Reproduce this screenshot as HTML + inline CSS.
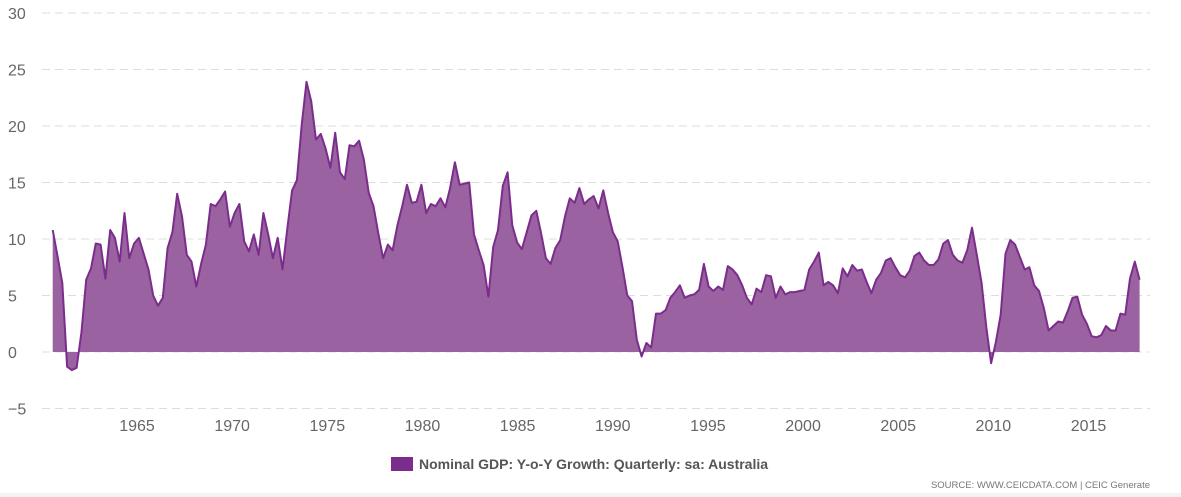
<!DOCTYPE html>
<html><head><meta charset="utf-8"><style>
body{margin:0;background:#fff;width:1181px;height:497px;overflow:hidden;font-family:"Liberation Sans",sans-serif}
svg{display:block}
</style></head><body>
<svg id="chart" width="1181" height="497" viewBox="0 0 1181 497">
<rect x="0" y="493" width="1181" height="4" fill="#f3f3f3"/>
<g id="grid"></g>
<g id="yticks"></g>
<g id="xticks"></g>
<g id="series"></g>
<g>
<rect x="391" y="457" width="22" height="14" fill="#7b2d8b"/>
<text x="419" y="469" font-size="14" font-weight="bold" fill="#555">Nominal GDP: Y-o-Y Growth: Quarterly: sa: Australia</text>
</g>
<text x="1150" y="488" font-size="9.5" fill="#777" text-anchor="end">SOURCE: WWW.CEICDATA.COM | CEIC Generate</text>
</svg>
<script>
const startYear = 1960.57;
const quarterStep = 0.2516;
const yTicks = [-5,0,5,10,15,20,25,30];
const xTicks = [1965,1970,1975,1980,1985,1990,1995,2000,2005,2010,2015];
const values = [10.8,8.5,6.1,-1.3,-1.6,-1.4,1.7,6.4,7.4,9.6,9.5,6.5,10.8,10.1,8.0,12.3,8.3,9.6,10.1,8.7,7.3,5.0,4.1,4.8,9.2,10.6,14.0,12.0,8.6,8.0,5.8,7.8,9.5,13.1,12.9,13.5,14.2,11.1,12.3,13.1,9.8,8.9,10.4,8.6,12.3,10.4,8.3,10.1,7.3,10.9,14.3,15.2,20.1,23.9,22.2,18.8,19.3,
18.0,16.3,19.4,15.9,15.3,18.3,18.2,18.7,17.0,14.1,12.9,10.5,8.3,9.5,9.0,11.2,12.9,14.8,13.2,13.3,14.8,12.3,13.1,12.9,13.6,12.8,14.5,16.8,14.8,14.9,15.0,10.4,9.0,7.7,4.9,9.3,10.8,14.7,15.9,11.2,9.7,9.1,10.6,12.1,12.5,10.5,8.3,7.8,9.2,9.9,12.0,13.6,13.2,14.5,13.1,13.5,13.8,12.7,14.3,12.3,10.6,9.8,
7.5,5.0,4.5,1.1,-0.4,0.8,0.4,3.4,3.4,3.7,4.8,5.3,5.9,4.8,5.0,5.1,5.5,7.8,5.8,5.4,5.8,5.5,7.6,7.3,6.8,5.9,4.8,4.2,5.6,5.3,6.8,6.7,4.8,5.8,5.1,5.3,5.3,5.4,5.5,7.3,8.0,8.8,5.9,6.2,5.9,5.2,7.4,6.7,7.7,7.2,7.3,6.2,5.2,6.4,7.0,8.1,8.3,
7.5,6.8,6.6,7.2,8.5,8.8,8.1,7.7,7.7,8.2,9.6,9.9,8.6,8.1,7.9,9.0,11.0,8.6,6.1,2.2,-1.0,0.9,3.3,8.7,9.9,9.5,8.4,7.3,7.5,5.9,5.4,3.9,1.9,2.3,2.7,2.6,3.6,4.8,4.9,3.3,2.5,1.4,1.3,1.5,2.3,1.9,1.9,3.4,3.3,6.5,8.0,6.4];

const NS='http://www.w3.org/2000/svg';
function xs(yr){return 137+(yr-1965)*19.03;}
function ys(v){return 352-v*11.3;}
function mk(tag,attrs,parent){const e=document.createElementNS(NS,tag);for(const k in attrs)e.setAttribute(k,attrs[k]);parent.appendChild(e);return e;}
const grid=document.getElementById('grid'),yt=document.getElementById('yticks'),xt=document.getElementById('xticks'),ser=document.getElementById('series');
yTicks.forEach(v=>{
  const l=mk('line',{x1:42,x2:1150,y1:ys(v),y2:ys(v),stroke:'#dcdcdc','stroke-width':1,'stroke-dasharray':'8,5'},grid);
  
  
  const t=mk('text',{x:8,y:ys(v)+6,'font-size':16,fill:'#666'},yt);
  
  
  t.textContent=v<0?'\u2212'+(-v):String(v);
});
xTicks.forEach(y=>{
  const t=mk('text',{x:xs(y),y:431,'font-size':16,fill:'#666','text-anchor':'middle'},xt);
  
  
  t.textContent=String(y);
});
const pts=values.map((v,i)=>[xs(startYear+i*quarterStep),ys(v)]);
const line=pts.map((p,i)=>(i?'L':'M')+p[0].toFixed(1)+','+p[1].toFixed(1)).join('');
const area=line+'L'+pts[pts.length-1][0].toFixed(1)+','+ys(0)+'L'+pts[0][0].toFixed(1)+','+ys(0)+'Z';
const a=mk('path',{d:area,fill:'#9a62a0'},ser);


const ln=mk('path',{d:line,fill:'none',stroke:'#7b2d8b','stroke-width':2,'stroke-linejoin':'round'},ser);


</script>
</body></html>
